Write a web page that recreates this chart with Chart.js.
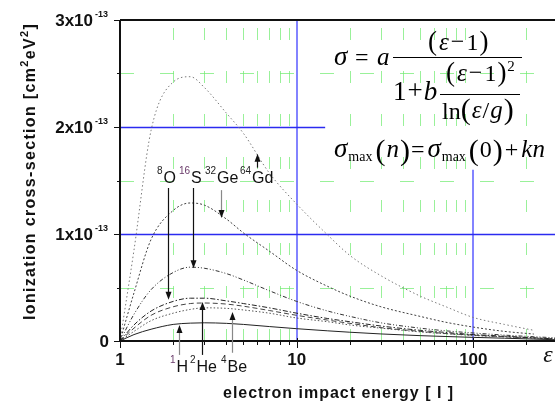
<!DOCTYPE html>
<html><head><meta charset="utf-8">
<script src="https://cdn.jsdelivr.net/npm/chart.js@4/dist/chart.umd.min.js"></script>
<style>html,body{margin:0;padding:0;background:#fff;}#wrap{width:555px;height:406px;position:relative}</style>
</head><body><div id="wrap"><canvas id="c" width="555" height="406"></canvas></div>
<script>
// ---- data (sigma in units of 1e-13 cm^2 eV^2, energy in units of I) ----
const energy  = [1, 1.2, 1.5, 2, 2.5, 3, 4, 5, 7, 10, 15, 20, 30, 50, 70, 100, 150, 220, 290];
const sigmaH  = [0, 0.06, 0.11, 0.155, 0.167, 0.17, 0.165, 0.155, 0.135, 0.115, 0.095, 0.082, 0.066, 0.05, 0.042, 0.034, 0.026, 0.018, 0.012];
const sigmaHe = [0, 0.12, 0.24, 0.32, 0.35, 0.355, 0.345, 0.325, 0.285, 0.24, 0.195, 0.165, 0.125, 0.09, 0.07, 0.055, 0.04, 0.028, 0.02];
const sigmaBe = [0, 0.09, 0.19, 0.26, 0.295, 0.31, 0.305, 0.29, 0.26, 0.215, 0.18, 0.15, 0.12, 0.085, 0.068, 0.052, 0.038, 0.026, 0.018];
const sigmaO  = [0, 0.15, 0.28, 0.37, 0.40, 0.40, 0.375, 0.35, 0.31, 0.26, 0.21, 0.18, 0.14, 0.10, 0.08, 0.06, 0.045, 0.03, 0.02];
const sigmaS  = [0, 0.25, 0.48, 0.64, 0.69, 0.68, 0.63, 0.57, 0.47, 0.37, 0.28, 0.23, 0.17, 0.12, 0.095, 0.075, 0.055, 0.04, 0.03];
const sigmaGe = [0, 0.45, 0.95, 1.22, 1.29, 1.27, 1.14, 1.01, 0.84, 0.66, 0.51, 0.42, 0.32, 0.23, 0.175, 0.13, 0.09, 0.065, null];
const sigmaGd = [0, 0.85, 1.97, 2.42, 2.47, 2.37, 2.13, 1.94, 1.57, 1.28, 0.99, 0.80, 0.61, 0.42, 0.32, 0.22, 0.155, 0.10, null];

const xTickValues = [1, 10, 100];
const xTickLabels = ['1', '10', '100'];
const xMinorValues = [2,3,4,5,6,7,8,9,20,30,40,50,60,70,80,90,200];
const yTickValues = [0, 1, 2, 3];
const yTickMantissas = ['0', '1x10', '2x10', '3x10'];
const yTickExponents = ['', '-13', '-13', '-13'];
const yMinorValues = [0.5, 1.5, 2.5];

const xTitle = 'electron impact energy [ I ]';
const yTitleParts = ['Ionization cross-section [cm', '2', 'eV', '2', ']'];

// arrows: [energy, tail sigma, tip sigma, colour]
const arrowsTop = [[1.87, 1.43, 0.385, '#111'], [2.59, 1.43, 0.68, '#111'], [3.73, 1.41, 1.15, '#888'], [5.97, 1.62, 1.75, '#111']];
const arrowsBottom = [[2.16, -0.13, 0.15, '#888'], [2.91, -0.13, 0.365, '#111'], [4.31, -0.11, 0.27, '#888']];

const blueVertical = [[10, 0, 3], [100, 0, 1.6]];
const blueHorizontal = [[1, 1, 290], [2, 1, 14.5]];

function pts(arr){ return energy.map((e,i)=>({x:e, y:arr[i]})); }

const SANS = "'Liberation Sans', Arial, sans-serif";
const SERIF = "'Liberation Serif', 'Times New Roman', serif";

function seq(ctx, x, y, parts){
  for (const p of parts){
    ctx.font = p[1];
    const dx = p[3] || 0;
    ctx.fillText(p[0], x + dx, y + (p[2] || 0));
    x += ctx.measureText(p[0]).width + dx;
  }
  return x;
}
function seqWidth(ctx, parts){
  let w = 0;
  for (const p of parts){ ctx.font = p[1]; w += ctx.measureText(p[0]).width + (p[3]||0); }
  return w;
}
function seqFit(ctx, x, y, parts, target){
  const hasLS = ('letterSpacing' in ctx);
  const w = seqWidth(ctx, parts);
  const n = parts.reduce((s,p)=>s+p[0].length,0);
  if (hasLS){
    ctx.letterSpacing = ((target - w) / n).toFixed(2) + 'px';
    seq(ctx, x, y, parts);
    ctx.letterSpacing = '0px';
  } else {
    ctx.save(); ctx.translate(x, y); ctx.scale(target / w, 1); seq(ctx, 0, 0, parts); ctx.restore();
  }
}

const deco = {
  id: 'deco',
  beforeDatasetsDraw(chart){
    const {ctx, chartArea: a, scales: {x, y}} = chart;
    ctx.save();
    ctx.lineWidth = 1;
    ctx.strokeStyle = 'rgba(110,235,110,0.7)';
    ctx.setLineDash([12, 31]); ctx.lineDashOffset = 35;
    xMinorValues.forEach(v => {
      const px = Math.round(x.getPixelForValue(v)) + 0.5;
      ctx.beginPath(); ctx.moveTo(px, a.top); ctx.lineTo(px, a.bottom); ctx.stroke();
    });
    ctx.setLineDash([14, 26]); ctx.lineDashOffset = 0;
    yMinorValues.forEach(v => {
      const py = Math.round(y.getPixelForValue(v)) + 0.5;
      ctx.beginPath(); ctx.moveTo(a.left, py); ctx.lineTo(a.right, py); ctx.stroke();
    });
    ctx.setLineDash([]);
    ctx.strokeStyle = '#5a5aff'; ctx.lineWidth = 1.5;
    blueVertical.forEach(([v, s0, s1]) => {
      const px = Math.round(x.getPixelForValue(v));
      ctx.beginPath(); ctx.moveTo(px, y.getPixelForValue(s0)); ctx.lineTo(px, y.getPixelForValue(s1)); ctx.stroke();
    });
    ctx.strokeStyle = '#2b2bf0'; ctx.lineWidth = 1.3;
    blueHorizontal.forEach(([s, e0, e1]) => {
      const py = Math.round(y.getPixelForValue(s)) + 0.5;
      ctx.beginPath(); ctx.moveTo(x.getPixelForValue(e0), py); ctx.lineTo(x.getPixelForValue(e1), py); ctx.stroke();
    });
    ctx.restore();
  },
  afterDatasetsDraw(chart){
    const {ctx, chartArea: a, scales: {x, y}} = chart;
    ctx.save();
    ctx.strokeStyle = '#111'; ctx.lineWidth = 2;
    ctx.beginPath(); ctx.moveTo(a.left, a.top); ctx.lineTo(a.left, a.bottom + 1); ctx.stroke();
    ctx.beginPath(); ctx.moveTo(a.left - 1, a.bottom); ctx.lineTo(a.right, a.bottom); ctx.stroke();
    ctx.beginPath(); ctx.moveTo(a.left, a.top); ctx.lineTo(a.right, a.top); ctx.stroke();
    ctx.lineWidth = 1;
    yTickValues.forEach(v => { const py = Math.round(y.getPixelForValue(v)) + 0.5; ctx.beginPath(); ctx.moveTo(a.left - 6, py); ctx.lineTo(a.left, py); ctx.stroke(); });
    yMinorValues.forEach(v => { const py = Math.round(y.getPixelForValue(v)) + 0.5; ctx.beginPath(); ctx.moveTo(a.left - 3, py); ctx.lineTo(a.left, py); ctx.stroke(); });
    xTickValues.forEach(v => { const px = Math.round(x.getPixelForValue(v)) + 0.5; ctx.beginPath(); ctx.moveTo(px, a.bottom - 3); ctx.lineTo(px, a.bottom + 7); ctx.stroke(); });
    xMinorValues.forEach(v => { const px = Math.round(x.getPixelForValue(v)) + 0.5; ctx.beginPath(); ctx.moveTo(px, a.bottom); ctx.lineTo(px, a.bottom + 4); ctx.stroke(); });

    ctx.fillStyle = '#111';
    ctx.textBaseline = 'alphabetic';
    yTickValues.forEach((v, i) => {
      const py = y.getPixelForValue(v);
      ctx.font = 'bold 17px ' + SANS;
      if (yTickExponents[i]) {
        ctx.textAlign = 'right'; ctx.fillText(yTickMantissas[i], 93, py + 6);
        ctx.textAlign = 'left'; ctx.font = 'bold 9px ' + SANS; ctx.fillText(yTickExponents[i], 95, py - 3);
      } else {
        ctx.textAlign = 'right'; ctx.fillText(yTickMantissas[i], 109, py + 6);
      }
    });
    ctx.textAlign = 'center'; ctx.font = 'bold 17px ' + SANS;
    xTickValues.forEach((v, i) => ctx.fillText(xTickLabels[i], x.getPixelForValue(v), 365));
    ctx.font = 'italic 24px ' + SERIF; ctx.fillText('ε', 548, 362);

    ctx.textAlign = 'left';
    seqFit(ctx, 223, 398, [[xTitle, 'bold 16px ' + SANS]], 231);
    ctx.save();
    ctx.translate(35, 320); ctx.rotate(-Math.PI / 2);
    const B = 'bold 16px ' + SANS, Bs = 'bold 11px ' + SANS;
    const yp = [[yTitleParts[0], B], [yTitleParts[1], Bs, -7], [yTitleParts[2], B], [yTitleParts[3], Bs, -7], [yTitleParts[4], B]];
    seqFit(ctx, 0, 0, yp, 297);
    ctx.restore();

    function arrow(e, s0, s1, col){
      const px = Math.round(x.getPixelForValue(e)) + 0.5;
      const p0 = y.getPixelForValue(s0), p1 = y.getPixelForValue(s1);
      const dir = p1 > p0 ? 1 : -1;
      ctx.strokeStyle = col; ctx.lineWidth = 1.2;
      ctx.beginPath(); ctx.moveTo(px, p0); ctx.lineTo(px, p1 - dir * 6); ctx.stroke();
      ctx.fillStyle = '#111';
      ctx.beginPath(); ctx.moveTo(px, p1); ctx.lineTo(px - 3, p1 - dir * 8); ctx.lineTo(px + 3, p1 - dir * 8); ctx.closePath(); ctx.fill();
    }
    arrowsTop.forEach(a1 => arrow(...a1));
    arrowsBottom.forEach(a1 => arrow(...a1));

    ctx.textAlign = 'left'; ctx.fillStyle = '#111';
    const L = '16px ' + SANS, Ls = '10px ' + SANS;
    function elem(x0, base, num, sym, numCol){
      ctx.font = Ls; ctx.fillStyle = numCol || '#222'; ctx.fillText(num, x0, base - 9);
      const w0 = ctx.measureText(num).width;
      ctx.font = L; ctx.fillStyle = '#111'; ctx.fillText(sym, x0 + w0 + 1, base);
    }
    elem(157, 183, '8', 'O');
    elem(179, 183, '16', 'S', '#6a3a6a');
    elem(205, 183, '32', 'Ge');
    elem(240, 183, '64', 'Gd');
    elem(170, 372, '1', 'H', '#6a3a6a');
    elem(190, 372, '2', 'He');
    elem(221, 372, '4', 'Be');

    ctx.fillStyle = '#000';
    const I24 = 'italic 24px ' + SERIF, R24 = '24px ' + SERIF, I26 = 'italic 27px ' + SERIF;
    const R14 = '14px ' + SERIF, R15 = '15px ' + SERIF, R30 = '30px ' + SERIF, R27 = '27px ' + SERIF, I25 = 'italic 25px ' + SERIF;
    ctx.font = I26; ctx.fillText('σ', 334, 65);
    ctx.font = R24; ctx.fillText('=', 355, 65);
    ctx.font = I25; ctx.fillText('a', 377, 65);
    seq(ctx, 428, 50, [['(', R27], ['ε', I25, 0, 2], ['−', R24, -1, 2], ['1', R24, 0, 2], [')', R27, 0, 1]]);
    ctx.strokeStyle = '#000'; ctx.lineWidth = 1;
    ctx.beginPath(); ctx.moveTo(393, 57.5); ctx.lineTo(522, 57.5); ctx.stroke();
    seq(ctx, 393, 100, [['1', R27], ['+', R27, -1, 1], ['b', I26, 0, 1]]);
    const ex = seq(ctx, 446, 81, [['(', R27], ['ε', I25, 0, 2], ['−', R24, -1, 2], ['1', R24, 0, 2], [')', R27, 0, 1]]);
    ctx.font = R15; ctx.fillText('2', ex + 1, 71);
    ctx.beginPath(); ctx.moveTo(440, 94.5); ctx.lineTo(520, 94.5); ctx.stroke();
    seq(ctx, 442, 119, [['ln', R24], ['(', R30], ['ε', I25, -1, 1], ['/', R24, -1, 1], ['g', I25, -1, 1], [')', R30, 0, 1]]);

    let xx = seq(ctx, 334, 157, [['σ', I26], ['max', R14, 4, 1]]);
    xx = seq(ctx, xx + 3, 160, [['(', R30], ['n', I25, -3, 1], [')', R30, 0, 1], ['=', R24, -3, 1]]);
    xx = seq(ctx, xx + 3, 157, [['σ', I26], ['max', R14, 4, 1]]);
    seq(ctx, xx + 3, 160, [['(', R30], ['0', R24, -3, 1], [')', R30, 0, 1], ['+', R24, -3, 2], ['kn', I25, -3, 3]]);
    ctx.restore();
  }
};

new Chart(document.getElementById('c'), {
  type: 'line',
  data: {
    datasets: [
      {label: '64Gd', data: pts(sigmaGd), borderColor: '#7a7a7a', borderDash: [1.5, 2.5]},
      {label: '32Ge', data: pts(sigmaGe), borderColor: '#404040', borderDash: [2, 2]},
      {label: '16S',  data: pts(sigmaS),  borderColor: '#333', borderDash: [4, 2, 1, 2, 1, 2]},
      {label: '8O',   data: pts(sigmaO),  borderColor: '#222', borderDash: [5, 2, 1.5, 2]},
      {label: '2He',  data: pts(sigmaHe), borderColor: '#444', borderDash: [5, 3]},
      {label: '4Be',  data: pts(sigmaBe), borderColor: '#555', borderDash: [1.5, 2]},
      {label: '1H',   data: pts(sigmaH),  borderColor: '#222'}
    ]
  },
  options: {
    responsive: false, animation: false, devicePixelRatio: 1,
    layout: {padding: {top: 20, left: 0, right: 0, bottom: 0}},
    elements: {point: {radius: 0}, line: {borderWidth: 1, cubicInterpolationMode: 'monotone'}},
    plugins: {legend: {display: false}, tooltip: {enabled: false}},
    scales: {
      x: {type: 'logarithmic', min: 1, max: 290, ticks: {display: false}, grid: {display: false}, border: {display: false},
          afterFit: s => { s.height = 65; }},
      y: {type: 'linear', min: 0, max: 3, ticks: {display: false}, grid: {display: false}, border: {display: false},
          afterFit: s => { s.width = 120; }}
    }
  },
  plugins: [deco]
});
</script></body></html>
